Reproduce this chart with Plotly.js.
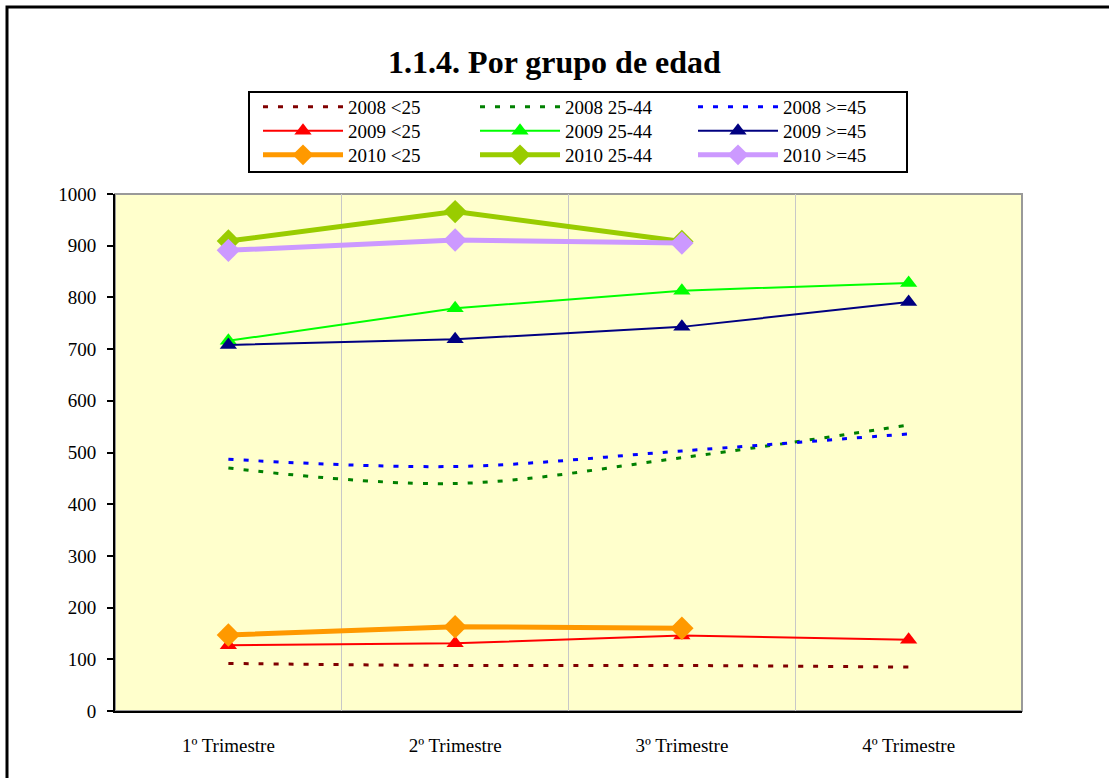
<!DOCTYPE html>
<html>
<head>
<meta charset="utf-8">
<script src="https://cdn.plot.ly/plotly-3.0.1.min.js"></script>
<style>html,body{margin:0;padding:0;background:#fff;}#chart{width:1109px;height:778px;}</style>
</head>
<body>
<div id="chart"></div>
<script>
const categories = ["1º Trimestre", "2º Trimestre", "3º Trimestre", "4º Trimestre"];
const yTicks = [0, 100, 200, 300, 400, 500, 600, 700, 800, 900, 1000];

const s2008_lt25 = [92, 88, 88, 85];
const s2008_25_44 = [470, 440, 490, 553];
const s2008_ge45 = [487, 473, 503, 536];

const s2009_lt25 = [127, 131, 146, 138];
const s2009_25_44 = [716, 779, 813, 828];
const s2009_ge45 = [708, 719, 743, 791];

const s2010_lt25 = [147, 163, 160];
const s2010_25_44 = [909, 966, 908];
const s2010_ge45 = [891, 911, 905];

const names = ["2008 <25", "2008 25-44", "2008 >=45",
               "2009 <25", "2009 25-44", "2009 >=45",
               "2010 <25", "2010 25-44", "2010 >=45"];

const FONT = "Liberation Serif, Times New Roman, serif";

function dotted(y, name, color, leg) {
  return {x: categories.slice(0, y.length), y: y, name: name, type: "scatter", mode: "lines",
          line: {color: color, width: 3, dash: "5px,10px", shape: "spline", smoothing: 1},
          legend: leg};
}
function tri(y, name, color, leg) {
  return {x: categories.slice(0, y.length), y: y, name: name, type: "scatter", mode: "lines+markers",
          line: {color: color, width: 2},
          marker: {symbol: "triangle-up", size: 15, color: color}, legend: leg};
}
function dia(y, name, color, leg) {
  return {x: categories.slice(0, y.length), y: y, name: name, type: "scatter", mode: "lines+markers",
          line: {color: color, width: 5},
          marker: {symbol: "diamond", size: 18, color: color}, legend: leg};
}

const traces = [
  dotted(s2008_lt25, names[0], "#800000", "legend"),
  dotted(s2008_25_44, names[1], "#008000", "legend2"),
  dotted(s2008_ge45, names[2], "#0000FF", "legend3"),
  tri(s2009_lt25, names[3], "#FF0000", "legend4"),
  tri(s2009_25_44, names[4], "#00FF00", "legend5"),
  tri(s2009_ge45, names[5], "#000080", "legend6"),
  dia(s2010_lt25, names[6], "#FF9900", "legend7"),
  dia(s2010_25_44, names[7], "#99CC00", "legend8"),
  dia(s2010_ge45, names[8], "#CC99FF", "legend9")
];

const L = 115, R = 1022, T = 194, B = 711;
const px = v => (v - L) / (R - L);
const py = v => (B - v) / (B - T);

const colX = [258, 475, 693];
const rowY = [107, 131, 155];
function legendAt(c, r) {
  return {x: px(colX[c]), y: py(rowY[r]), xanchor: "left", yanchor: "middle",
          bgcolor: "rgba(0,0,0,0)", borderwidth: 0, itemwidth: 80,
          font: {family: FONT, size: 19, color: "#000"}, itemclick: false, itemdoubleclick: false};
}

const layout = {
  width: 1109, height: 778,
  margin: {l: L, r: 1109 - R, t: T, b: 778 - B, pad: 0},
  paper_bgcolor: "#FFFFFF",
  plot_bgcolor: "#FFFFCC",
  font: {family: FONT, size: 16, color: "#000"},
  title: {text: "<b>1.1.4. Por grupo de edad</b>", font: {family: FONT, size: 32, color: "#000"},
          x: 0.5, xref: "container", xanchor: "center", y: 1 - 62 / 778, yref: "container", yanchor: "middle"},
  showlegend: true,
  legend: legendAt(0, 0), legend2: legendAt(1, 0), legend3: legendAt(2, 0),
  legend4: legendAt(0, 1), legend5: legendAt(1, 1), legend6: legendAt(2, 1),
  legend7: legendAt(0, 2), legend8: legendAt(1, 2), legend9: legendAt(2, 2),
  xaxis: {type: "category", categoryorder: "array", categoryarray: categories,
          range: [-0.5, 3.5], tickson: "boundaries", showgrid: true, gridcolor: "#C8C8C8", gridwidth: 1,
          ticks: "", showline: true, linecolor: "#000", linewidth: 2, zeroline: false,
          tickfont: {family: FONT, size: 19, color: "#000"}, ticklabelstandoff: 16, fixedrange: true},
  yaxis: {range: [0, 1000], tickvals: yTicks, ticktext: yTicks.map(String), showgrid: false,
          ticks: "outside", ticklen: 6, tickwidth: 2, tickcolor: "#000",
          showline: true, linecolor: "#000", linewidth: 2, zeroline: false,
          tickfont: {family: FONT, size: 19, color: "#000"}, ticklabelstandoff: 7, fixedrange: true},
  shapes: [
    {type: "rect", xref: "paper", yref: "paper", x0: 0, x1: 1, y0: 0, y1: 1,
     line: {color: "#999999", width: 2}, layer: "below"},
    {type: "rect", xref: "paper", yref: "paper", x0: px(249), x1: px(907), y0: py(172), y1: py(92),
     line: {color: "#000", width: 2}, fillcolor: "rgba(255,255,255,0)"},
    {type: "rect", xref: "paper", yref: "paper", x0: px(7), x1: px(1130), y0: py(800), y1: py(7),
     line: {color: "#000", width: 3}, fillcolor: "rgba(0,0,0,0)"}
  ]
};

Plotly.newPlot("chart", traces, layout, {displayModeBar: false, staticPlot: true});
</script>
</body>
</html>
